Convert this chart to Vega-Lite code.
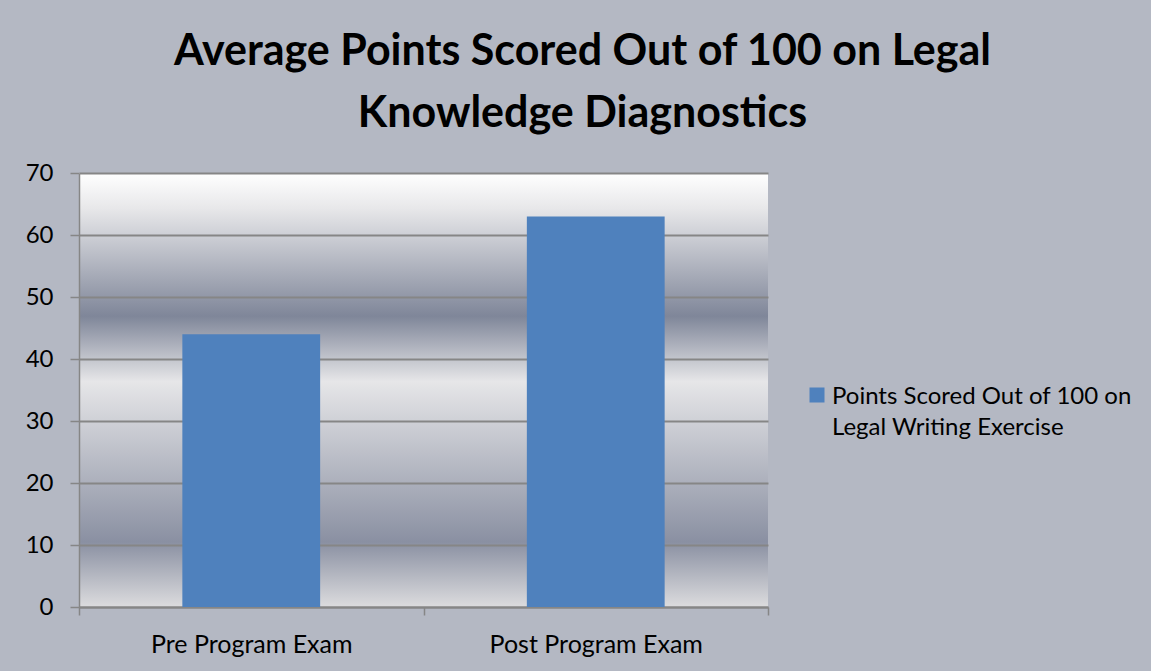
{
  "$schema": "https://vega.github.io/schema/vega-lite/v6.json",
  "autosize": {"type": "none"},
  "padding": {"left": 79, "top": 173, "right": 383, "bottom": 64},
  "width": 689,
  "height": 434,
  "background": "#b4b8c3",
  "config": {
    "font": "Lato",
    "view": {
      "stroke": null,
      "fill": {
        "gradient": "linear",
        "x1": 0, "y1": 0, "x2": 0, "y2": 1,
        "stops": [
          {"offset": 0, "color": "#ffffff"},
          {"offset": 0.08, "color": "#e8e8ea"},
          {"offset": 0.33, "color": "#7f8699"},
          {"offset": 0.48, "color": "#e6e6e8"},
          {"offset": 0.85, "color": "#8a90a2"},
          {"offset": 1, "color": "#dcdcde"}
        ]
      }
    }
  },
  "title": {
    "text": ["Average Points Scored Out of 100 on Legal", "Knowledge Diagnostics"],
    "font": "Lato",
    "fontSize": 43,
    "fontWeight": "bold",
    "color": "#000000",
    "lineHeight": 62,
    "anchor": "middle",
    "dx": 159,
    "baseline": "alphabetic",
    "offset": -9
  },
  "data": {
    "values": [
      {"exam": "Pre Program Exam", "score": 44, "series": "Points Scored Out of 100 on Legal Writing Exercise"},
      {"exam": "Post Program Exam", "score": 63, "series": "Points Scored Out of 100 on Legal Writing Exercise"}
    ]
  },
  "mark": {"type": "bar", "width": {"band": 0.4}},
  "encoding": {
    "x": {
      "field": "exam",
      "type": "nominal",
      "sort": null,
      "scale": {"paddingInner": 0, "paddingOuter": 0},
      "axis": {
        "title": null,
        "labelAngle": 0,
        "labelFontSize": 25,
        "labelLimit": 0,
        "labelColor": "#000000",
        "labelPadding": 17,
        "tickBand": "extent",
        "ticks": true,
        "tickSize": 8,
        "tickColor": "#868686",
        "tickWidth": 1.5,
        "domainColor": "#868686",
        "domainWidth": 2,
        "grid": false
      }
    },
    "y": {
      "field": "score",
      "type": "quantitative",
      "scale": {"domain": [0, 70], "nice": false},
      "axis": {
        "title": null,
        "values": [0, 10, 20, 30, 40, 50, 60, 70],
        "labelFontSize": 24,
        "labelColor": "#000000",
        "labelPadding": 17,
        "tickSize": 9,
        "tickColor": "#868686",
        "tickWidth": 1.5,
        "domainColor": "#868686",
        "domainWidth": 1.5,
        "grid": true,
        "gridColor": "#868686",
        "gridWidth": 2
      }
    },
    "color": {
      "field": "series",
      "type": "nominal",
      "scale": {"range": ["#4f81bd"]},
      "legend": {
        "title": null,
        "orient": "none",
        "legendX": 726,
        "legendY": 210,
        "padding": 0,
        "symbolType": "square",
        "symbolSize": 225,
        "symbolStrokeWidth": 0,
        "symbolFillColor": "#4f81bd",
        "labelFontSize": 24,
        "labelColor": "#000000",
        "labelOffset": 3,
        "labelLimit": 0,
        "labelBaseline": "alphabetic",
        "labelExpr": "['Points Scored Out of 100 on', 'Legal Writing Exercise']",
        "encode": {
          "labels": {
            "update": {
              "lineHeight": {"value": 31},
              "dy": {"value": 9}
            }
          }
        }
      }
    }
  }
}
